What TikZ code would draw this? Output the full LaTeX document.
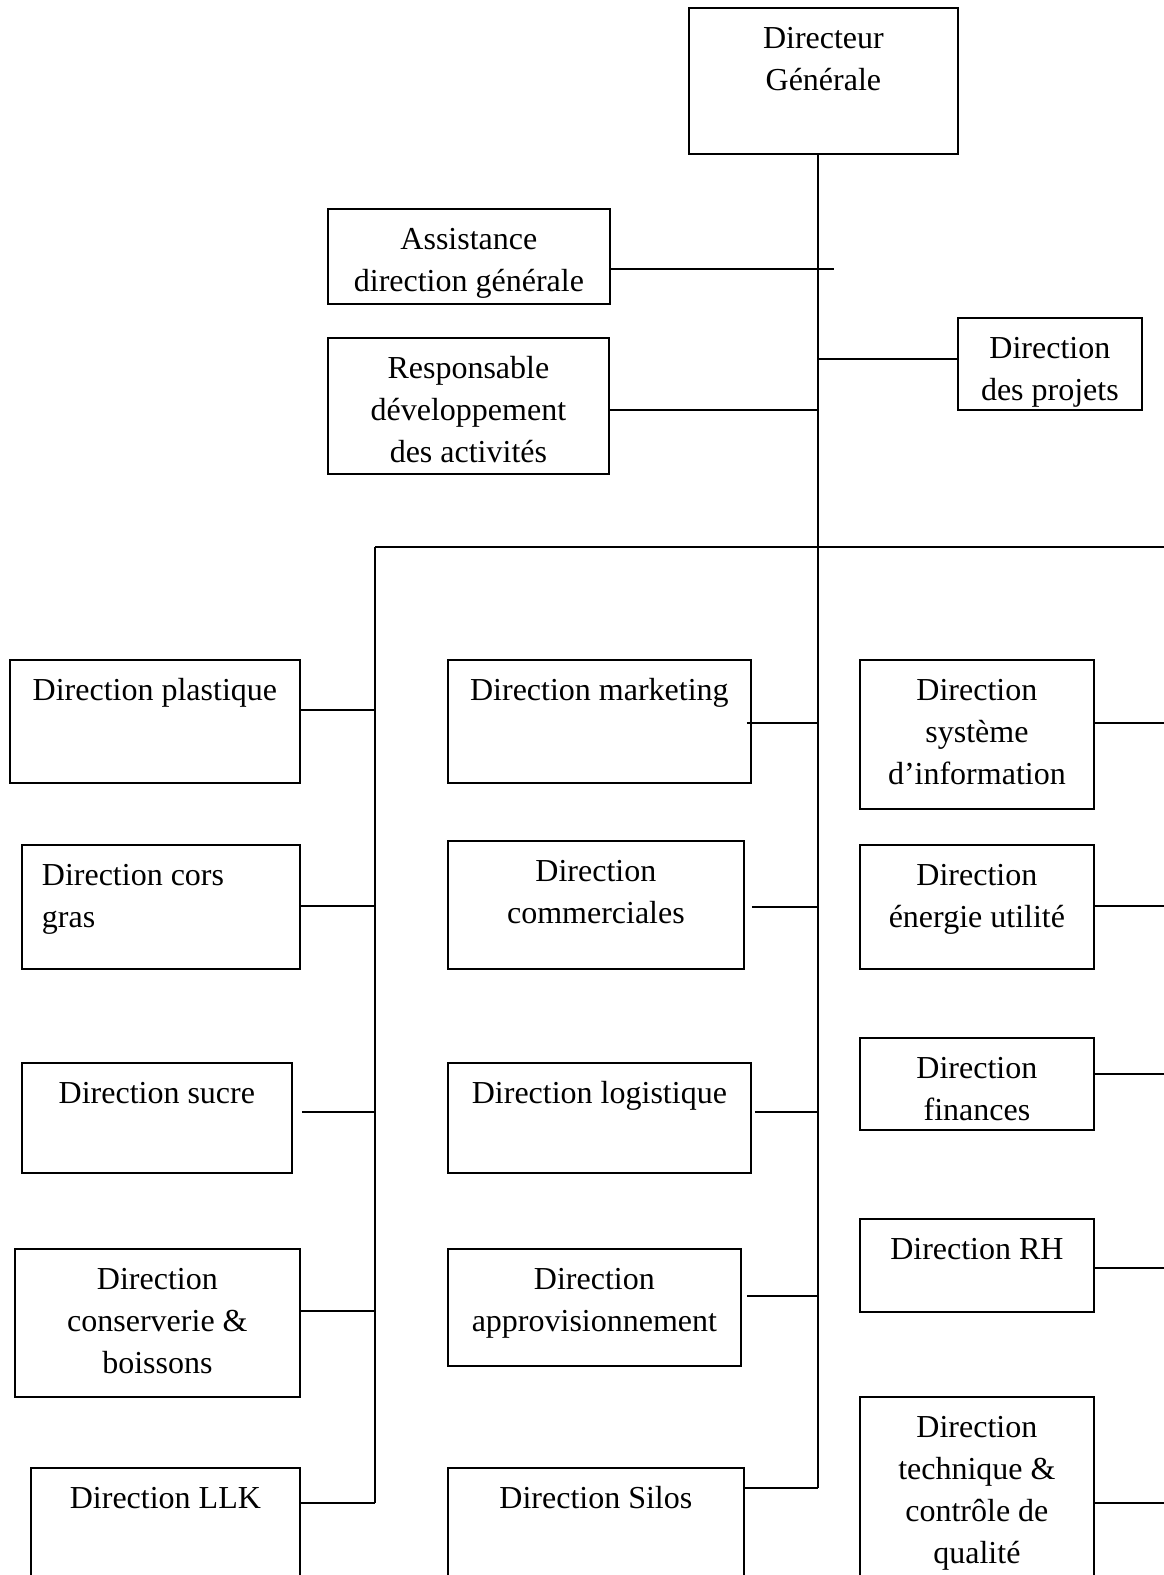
\documentclass[tikz,border=0pt]{standalone}
\usepackage{fontspec}
\setmainfont{Liberation Serif}
\usetikzlibrary{positioning}

% text block of a box: width, height, lines (first baseline 41pt below the top)
\newcommand{\orgtext}[4][\centering]{\parbox[t][#3pt][t]{#2pt}{#1\rule{0pt}{41pt}#4}}

\begin{document}
\begin{tikzpicture}[x=1pt, y=-1pt, font=\fontsize{32}{42}\selectfont,
    orgbox/.style={draw, line width=1.8pt, inner sep=0pt, anchor=north west},
    link/.style={line width=1.8pt}]
  \useasboundingbox (0,0) rectangle (1163,1575);

  % Direction generale and staff
  \node[orgbox] (dg) at (688,7) {\orgtext{269}{146}{Directeur\\Générale}};
  \node[orgbox] (adg) at (327,208) {\orgtext{282}{95}{Assistance\\direction générale}};
  \node[orgbox] (rda) at (327,337) {\orgtext{281}{136}{Responsable\\développement\\des activités}};
  \node[orgbox] (dp) at (957,317) {\orgtext{184}{92}{Direction\\des projets}};

  % Bus coordinates
  \coordinate (tbus) at (818,547);
  \coordinate (lbus) at (375,547);
  \coordinate (rbus) at (1165,547);

  % Left column
  \node[orgbox] (pla) at (9,659) {\orgtext{290}{123}{Direction plastique}};
  \node[orgbox] (cg) at (21,844) {\orgtext[\raggedright\leftskip=20pt]{278}{124}{Direction cors\\gras}};
  \node[orgbox] (suc) at (21,1062) {\orgtext{270}{110}{Direction sucre}};
  \node[orgbox] (cb) at (14,1248) {\orgtext{285}{148}{Direction\\conserverie \&\\boissons}};
  \node[orgbox] (llk) at (30,1467) {\orgtext{269}{150}{Direction LLK}};

  % Middle column
  \node[orgbox] (mkt) at (447,659) {\orgtext{303}{123}{Direction marketing}};
  \node[orgbox] (com) at (447,840) {\orgtext{296}{128}{Direction\\commerciales}};
  \node[orgbox] (log) at (447,1062) {\orgtext{303}{110}{Direction logistique}};
  \node[orgbox] (app) at (447,1248) {\orgtext{293}{117}{Direction\\approvisionnement}};
  \node[orgbox] (sil) at (447,1467) {\orgtext{296}{150}{Direction Silos}};

  % Right column
  \node[orgbox] (si) at (859,659) {\orgtext{234}{149}{Direction\\système\\d’information}};
  \node[orgbox] (eu) at (859,844) {\orgtext{234}{124}{Direction\\énergie utilité}};
  \node[orgbox] (fin) at (859,1037) {\orgtext{234}{92}{Direction\\finances}};
  \node[orgbox] (rh) at (859,1218) {\orgtext{234}{93}{Direction RH}};
  \node[orgbox] (tcq) at (859,1396) {\orgtext{234}{220}{Direction\\technique \&\\contrôle de\\qualité}};

  % Trunk and buses
  \draw[link] (dg.south -| tbus) -- (tbus |- 0,1488);
  \draw[link] (lbus) -- (rbus);
  \draw[link] (lbus) -- (lbus |- 0,1503);

  % Staff links
  \draw[link] (adg.east |- 0,269) -- ([xshift=16pt]tbus |- 0,269);
  \draw[link] (tbus |- 0,359) -- (dp.west |- 0,359);
  \draw[link] (rda.east |- 0,410) -- (tbus |- 0,410);

  % Column links
  \foreach \n/\s/\y in {pla/0/710, cg/0/906, suc/9/1112, cb/0/1311, llk/0/1503}
    \draw[link] ([xshift=\s pt]\n.east |- 0,\y) -- (lbus |- 0,\y);
  \foreach \n/\s/\y in {mkt/-5/723, com/7/907, log/3/1112, app/5/1296, sil/0/1488}
    \draw[link] ([xshift=\s pt]\n.east |- 0,\y) -- (tbus |- 0,\y);
  \foreach \n/\y in {si/723, eu/906, fin/1074, rh/1268, tcq/1503}
    \draw[link] (\n.east |- 0,\y) -- (rbus |- 0,\y);
\end{tikzpicture}
\end{document}
